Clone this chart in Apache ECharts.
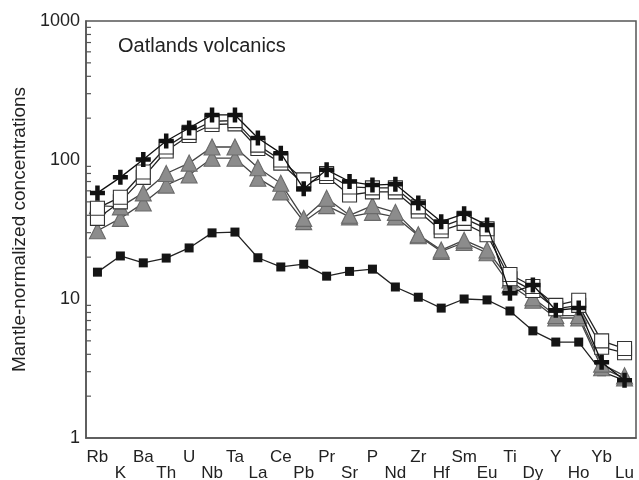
<!DOCTYPE html>
<html>
<head>
<meta charset="utf-8">
<script src="https://cdn.jsdelivr.net/npm/echarts@6/dist/echarts.min.js"></script>
<style>
  html, body { margin: 0; padding: 0; background: #fff; }
  #chart { width: 639px; height: 480px; }
</style>
</head>
<body>
<div id="chart"></div>
<script>
// Element order of the spider diagram (x axis)
const elements = ['Rb','K','Ba','Th','U','Nb','Ta','La','Ce','Pb','Pr','Sr','P','Nd','Zr','Hf','Sm','Eu','Ti','Dy','Y','Ho','Yb','Lu'];

// Mantle-normalized concentrations per sample
const crossSample   = [58, 75, 101, 137, 170, 211, 211, 144, 112, 62, 85, 70, 66, 67, 49, 36, 41, 34, 11, 12.6, 8.3, 8.6, 3.5, 2.6];
const squareUpper   = [45, 54, 82, 124, 158, 190, 192, 128, 100, 72, 80, 64, 63, 63, 46, 33, 38, 32, 15, 12.3, 9, 9.8, 5, 4.4];
const squareLower   = [38, 50, 75, 116, 150, 180, 182, 121, 95, 67, 76, 56, 59, 59, 43, 31, 35, 29, 14, 11.5, 8.5, 9, 4.5, 4.1];
const triangleUpper = [47, 46, 58, 80, 95, 124, 124, 88, 68, 38, 53, 40, 47, 42, 29, 22.5, 26.5, 22.5, 13.7, 10.2, 7.6, 7.6, 3.4, 2.8];
const triangleLower = [31, 38, 49, 66, 78, 103, 103, 74, 59, 36, 47, 39, 42, 39, 28.5, 22, 25.5, 21.5, 12.6, 9.8, 7.3, 7.3, 3.2, 2.7];
const filledSquare  = [15.6, 20.4, 18.2, 19.7, 23.3, 29.9, 30.3, 19.8, 17.0, 17.8, 14.6, 15.8, 16.4, 12.2, 10.3, 8.6, 10.0, 9.85, 8.2, 5.9, 4.9, 4.9, 3.0, 2.6];

// Log-axis decades and intermediate (minor) tick values
const decades = [1, 10, 100, 1000];
const minorTicks = [2,3,4,5,6,7,8,9, 20,30,40,50,60,70,80,90, 200,300,400,500,600,700,800,900];

const FONT = '"Liberation Sans", Arial, sans-serif';
const AXIS = '#555';
const plusPath = 'path://M3.5,0h3v3.5h3.5v3h-3.5v3.5h-3v-3.5h-3.5v-3h3.5z';

function lineSeries(name, data, symbol, size, fill, border, lineColor, z) {
  return {
    name, type: 'line', data,
    symbol, symbolSize: size, showSymbol: true,
    lineStyle: { color: lineColor, width: 1.3 },
    itemStyle: { color: fill, borderColor: border, borderWidth: border ? 1.1 : 0 },
    z, animation: false
  };
}

const chart = echarts.init(document.getElementById('chart'), null, { renderer: 'canvas' });
chart.setOption({
  backgroundColor: '#fff',
  animation: false,
  title: {
    text: 'Oatlands volcanics',
    left: 118, top: 36, padding: 0,
    textStyle: { fontFamily: FONT, fontSize: 20, fontWeight: 'normal', color: '#222' }
  },
  grid: {
    left: 86, right: 3, top: 21, bottom: 42,
    containLabel: false, outerBoundsMode: 'none',
    show: true, borderColor: AXIS, borderWidth: 1.5
  },
  xAxis: {
    type: 'category',
    data: elements,
    boundaryGap: true,
    axisLine: { lineStyle: { color: AXIS, width: 1.5 } },
    axisTick: { inside: true, length: 5, alignWithLabel: true, lineStyle: { color: AXIS, width: 1.2 } },
    axisLabel: {
      interval: 0, margin: 11,
      fontFamily: FONT, fontSize: 17, color: '#222', lineHeight: 16,
      formatter: (v, i) => (i % 2 ? '\n' + v : v)
    },
    splitLine: { show: false }
  },
  yAxis: {
    type: 'log', logBase: 10, min: 1, max: 1000,
    name: 'Mantle-normalized concentrations',
    nameLocation: 'middle', nameGap: 56,
    nameTextStyle: { fontFamily: FONT, fontSize: 19, color: '#222' },
    axisLine: { show: true, lineStyle: { color: AXIS, width: 1.5 } },
    axisTick: { inside: true, length: 7, lineStyle: { color: AXIS, width: 1.2 } },
    axisLabel: {
      fontFamily: FONT, fontSize: 18, color: '#222', margin: 6,
      formatter: v => (decades.includes(Math.round(v)) ? String(Math.round(v)) : '')
    },
    splitLine: { show: false }
  },
  series: [
    {
      // intermediate log ticks along the left axis
      type: 'custom', silent: true, z: 1, clip: false,
      data: minorTicks.map(v => [0, v]),
      encode: { x: 0, y: 1 },
      renderItem: (params, api) => {
        const cs = params.coordSys;
        const y = api.coord([0, api.value(1)])[1];
        return { type: 'line', shape: { x1: cs.x, y1: y, x2: cs.x + 5, y2: y },
                 style: { stroke: AXIS, lineWidth: 1.2 } };
      }
    },
    lineSeries('filled', filledSquare, 'rect', 9, '#151515', null, '#222', 3),
    lineSeries('triLower', triangleLower, 'triangle', 16, '#8c8c8c', '#6a6a6a', '#444', 4),
    lineSeries('triUpper', triangleUpper, 'triangle', 16, '#8c8c8c', '#6a6a6a', '#444', 4),
    lineSeries('sqLower', squareLower, 'rect', 14, '#fff', '#333', '#222', 5),
    lineSeries('sqUpper', squareUpper, 'rect', 14, '#fff', '#333', '#222', 5),
    lineSeries('cross', crossSample, plusPath, 15, '#111', null, '#111', 6)
  ]
});
</script>
</body>
</html>
